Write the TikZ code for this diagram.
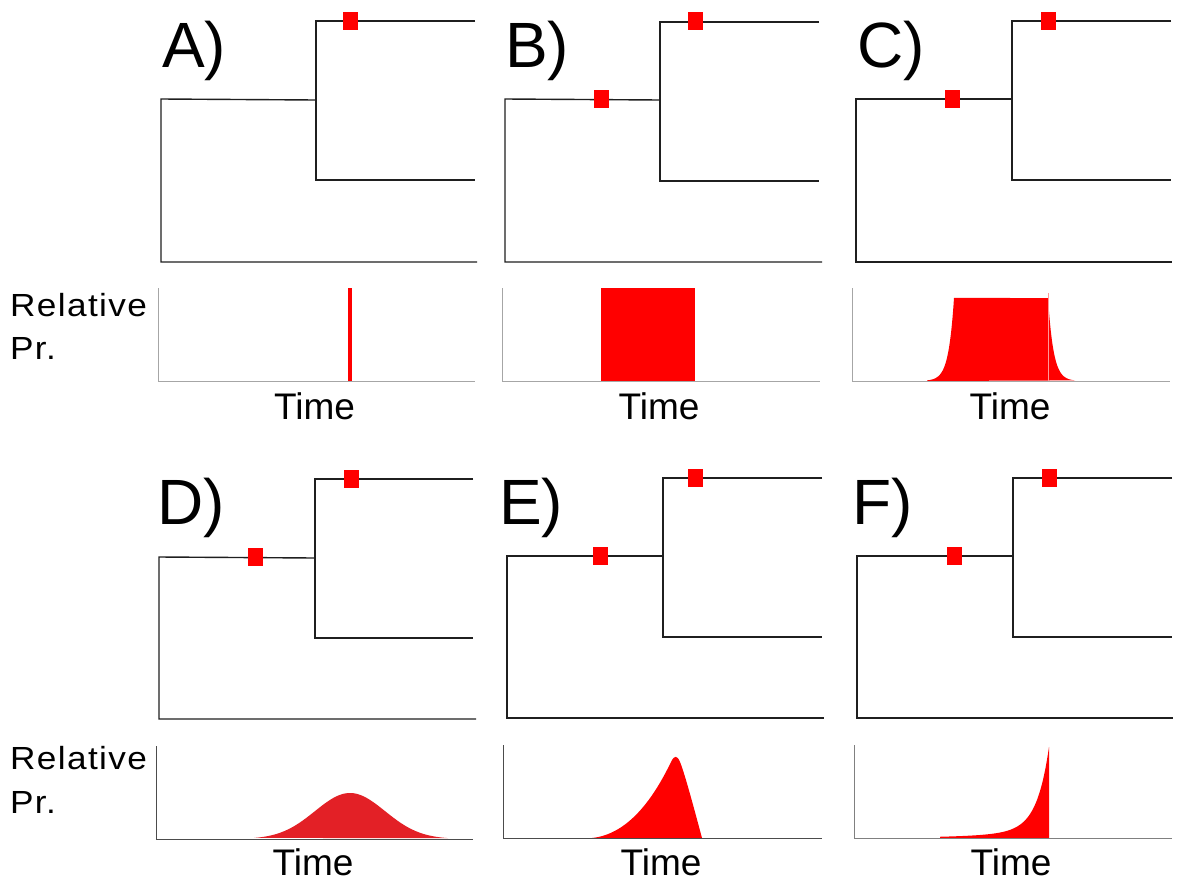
\documentclass[tikz,border=0pt]{standalone}
\usepackage{fontspec}
\setmainfont{Liberation Sans}
\newfontfamily\spacedsans[LetterSpace=4]{Liberation Sans}
\newcommand{\widetext}[1]{\scalebox{1.1}[1]{\spacedsans #1}}
\begin{document}
\begin{tikzpicture}[x=1pt,y=-1pt,
  branch/.style={draw=black!88,line width=1.4pt},
  axisline/.style={draw=black!35,line width=1pt},
  axisdark/.style={draw=black!70,line width=1pt},
  redmark/.style={rectangle,fill=red,draw=none,minimum width=15pt,minimum height=18pt,inner sep=0pt,outer sep=0pt},
  panellabel/.style={anchor=base west,inner sep=0pt,outer sep=0pt,font=\fontsize{64}{64}\selectfont},
  ylab/.style={anchor=base west,inner sep=0pt,outer sep=0pt,font=\fontsize{32}{32}\selectfont},
  xlab/.style={anchor=base,inner sep=0pt,outer sep=0pt,font=\fontsize{37}{37}\selectfont}]
\definecolor{deepred}{RGB}{227,32,38}
\useasboundingbox (0,0) rectangle (1178,881);
\fill[white] (0,0) rectangle (1178,881);

% ---------- panel letters ----------
\node[panellabel] (la) at (162,67) {A)};
\node[panellabel] (lb) at (505,67) {B)};
\node[panellabel] (lc) at (857,67) {C)};
\node[panellabel] (ld) at (157,524) {D)};
\node[panellabel] (le) at (499,524) {E)};
\node[panellabel] (lf) at (852,524) {F)};

% ---------- trees, top row ----------
\draw[branch] (475,21) -- (316,21) -- (316,180) -- (475,180);
\draw[branch] (316,100) -- (161,99) -- (161,262) -- (477,262);
\draw[branch] (819,22) -- (660,22) -- (660,181) -- (819,181);
\draw[branch] (660,100) -- (505,99) -- (505,262) -- (822,262);
\draw[branch] (1171,21) -- (1012,21) -- (1012,180) -- (1171,180);
\draw[branch] (1012,99) -- (856,99) -- (856,262) -- (1172,262);

% ---------- trees, bottom row ----------
\draw[branch] (473,479) -- (315,479) -- (315,638) -- (473,638);
\draw[branch] (315,558) -- (159,557) -- (159,719) -- (476,719);
\draw[branch] (822,478) -- (663,478) -- (663,637) -- (822,637);
\draw[branch] (663,556) -- (507,556) -- (507,718) -- (824,718);
\draw[branch] (1172,478) -- (1013,478) -- (1013,637) -- (1172,637);
\draw[branch] (1013,556) -- (857,556) -- (857,718) -- (1173,718);

% ---------- event markers ----------
\node[redmark] (ma1) at (350.5,20.5) {};
\node[redmark] (mb1) at (695.5,21) {};
\node[redmark] (mb2) at (601.5,99) {};
\node[redmark] (mc1) at (1048.5,21) {};
\node[redmark] (mc2) at (952.5,98.5) {};
\node[redmark] (md1) at (351.5,479) {};
\node[redmark] (md2) at (255.5,556.5) {};
\node[redmark] (me1) at (695.5,478) {};
\node[redmark] (me2) at (600.5,555.5) {};
\node[redmark] (mf1) at (1049.5,478) {};
\node[redmark] (mf2) at (954.5,556) {};

% ---------- density plots, top row ----------
% A: point mass
\fill[red] (348,288) rectangle (352,381);
% B: uniform
\fill[red] (601,288) rectangle (695,381);
% C: uniform with exponential shoulders
\fill[red] (927,381)
  -- plot[domain=927:954,samples=50] (\x,{381-83*exp(-(954-\x)/5.5)})
  -- (1048,298)
  -- plot[domain=1048:1075,samples=50] (\x,{381-83*exp(-(\x-1048)/5.5)})
  -- cycle;
\draw[red!40,line width=0.6pt] (1048,293) -- (1048,381);

\draw[axisline] (158,288) -- (158,381) -- (475,381);
\draw[axisline] (502,288) -- (502,381) -- (820,381);
\draw[axisline] (852,288) -- (852,381) -- (1170,381);

% ---------- density plots, bottom row ----------
% D: normal
\fill[deepred] plot[domain=254:448,samples=90]
  (\x,{839-46*exp(-0.5*((\x-350)/35)*((\x-350)/35))}) -- cycle;
% E: skewed peak
\fill[red] (592,838) .. controls (630,834) and (655,795) .. (671,762)
  .. controls (674.4,755) and (677,755) .. (680,762)
  .. controls (684.5,772.5) and (695,812) .. (702,838) -- cycle;
% F: rising towards the node
\fill[red] (940,838)
  -- plot[domain=940:1049,samples=90]
     (\x,{838-80*exp(-(1049-\x)/12)-11*exp(-(1049-\x)/50)})
  -- (1049,838) -- cycle;

\draw[axisdark] (156,746) -- (156,839) -- (473,839);
\draw[axisdark] (503,745) -- (503,838) -- (822,838);
\draw[axisline,draw=black!50] (854,745) -- (854,838) -- (1172,838);

% ---------- axis texts ----------
\node[ylab] (rel1) at (10,316) {\widetext{Relative}};
\node[ylab] (pr1) at (10,359) {\widetext{Pr.}};
\node[ylab] (rel2) at (10,769) {\widetext{Relative}};
\node[ylab] (pr2) at (10,813) {\widetext{Pr.}};

\node[xlab] (ta) at (314.5,419) {Time};
\node[xlab] (tb) at (659,419) {Time};
\node[xlab] (tc) at (1010,419) {Time};
\node[xlab] (td) at (313,875) {Time};
\node[xlab] (te) at (661,875) {Time};
\node[xlab] (tf) at (1011,875) {Time};
\end{tikzpicture}
\end{document}
